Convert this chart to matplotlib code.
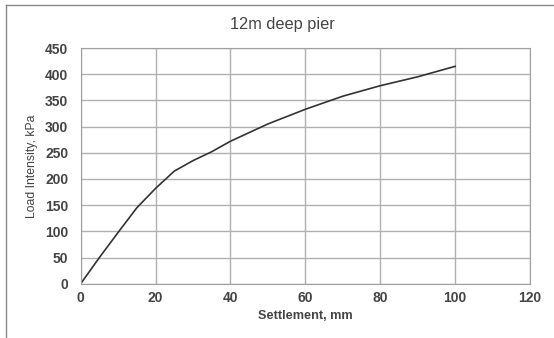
import matplotlib.pyplot as plt
from matplotlib.lines import Line2D

plt.rcParams['font.family'] = ['Liberation Sans', 'DejaVu Sans']

settlement = [0, 5, 10, 15, 20, 25, 30, 35, 40, 50, 60, 70, 80, 90, 100]
load = [0, 50, 98, 145, 182, 215, 235, 252, 272, 305, 333, 358, 378, 395, 415]

x_ticks = [0, 20, 40, 60, 80, 100, 120]
y_ticks = [0, 50, 100, 150, 200, 250, 300, 350, 400, 450]

W, H = 554, 338
fig = plt.figure(figsize=(W / 100, H / 100), dpi=100)
ax = fig.add_axes([80.7 / W, 1 - 283.7 / H, (530 - 80.7) / W, (283.7 - 48) / H])

ax.plot(settlement, load, color='#333333', linewidth=1.2)

ax.set_xlim(0, 120)
ax.set_ylim(0, 450)
ax.set_xticks(x_ticks)
ax.set_yticks(y_ticks)
ax.grid(True, color='#b0b0b0', linewidth=1.0)
ax.set_axisbelow(True)
for s in ax.spines.values():
    s.set_color('#a0a0a0')
ax.tick_params(length=0, labelsize=10, colors='#444444')
ax.tick_params(axis='x', pad=5)
ax.tick_params(axis='y', pad=9)
for lbl in ax.get_xticklabels() + ax.get_yticklabels():
    lbl.set_fontweight('bold')

ax.set_xlabel('Settlement, mm', fontsize=9.2, fontweight='bold', color='#444444', labelpad=4)
ax.set_ylabel('Load Intensity, kPa', fontsize=8.8, color='#444444', labelpad=5)
fig.text(282.5 / W, 1 - 25 / H, '12m deep pier', ha='center', va='center',
         fontsize=11.8, color='#444444')

# outer frame of the chart area
fig.add_artist(Line2D([6 / W, 1], [1 - 5 / H, 1 - 5 / H], transform=fig.transFigure,
                      color='#888888', linewidth=1))
fig.add_artist(Line2D([6 / W, 6 / W], [0, 1 - 5 / H], transform=fig.transFigure,
                      color='#888888', linewidth=1))

fig.savefig('out.png', dpi=100)
